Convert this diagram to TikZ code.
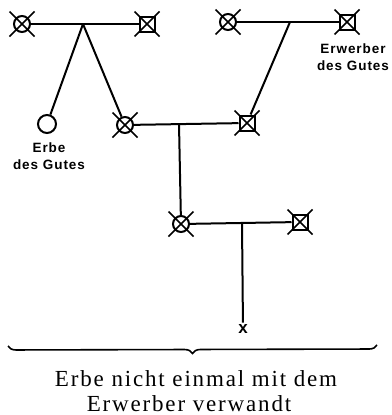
\documentclass[tikz,border=0pt]{standalone}
\usepackage{fontspec}
\setmainfont{Liberation Serif}
\newfontfamily\labfont[LetterSpace=7]{Liberation Sans}
\newfontfamily\capfont[LetterSpace=8]{Liberation Serif}
\usetikzlibrary{decorations.pathreplacing}
\begin{document}
\begin{tikzpicture}[x=1pt,y=-1pt,line width=2pt,
  pcirc/.style={circle,draw,minimum size=16pt,inner sep=0pt},
  psq/.style={rectangle,draw,minimum size=15pt,inner sep=0pt},
  popen/.style={circle,draw,minimum size=18pt,inner sep=0pt},
  xline/.style={line width=1.5pt},
  labtext/.style={font=\labfont\bfseries\fontsize{13.5}{17}\selectfont,align=center,inner sep=0pt},
  captext/.style={font=\capfont\fontsize{23}{27}\selectfont,inner sep=0pt,anchor=base}]
\useasboundingbox (0,0) rectangle (391,415);
% nodes
\node[pcirc] (a) at (22,24) {};
\node[psq]   (b) at (147,24) {};
\node[popen] (c) at (47,124) {};
\node[pcirc] (d) at (125,125) {};
\node[pcirc] (e) at (228,22) {};
\node[psq]   (f) at (347,22) {};
\node[psq]   (g) at (247,123) {};
\node[pcirc] (h) at (181,224) {};
\node[psq]   (i) at (300,222) {};
\node[font=\labfont\bfseries\fontsize{17}{18}\selectfont,inner sep=1pt] (x) at (243,329) {x};
\coordinate (j1) at (83,24);
\coordinate (j2) at (290,22);
\coordinate (j3) at (179,124);
\coordinate (j4) at (242,223);
% crosses
\foreach \n in {a,b,d,e,f,g,h,i}
  \draw[xline] (\n.center) +(-12.5,-12.5) -- +(12.5,12.5) +(-12.5,12.5) -- +(12.5,-12.5);
% connectors
\draw (a) -- (b);
\draw (j1) -- (c);
\draw (j1) -- (d);
\draw (e) -- (f);
\draw (j2) -- (g);
\draw (d) -- (g);
\draw (j3) -- (h);
\draw (h) -- (i);
\draw (j4) -- (x);
% labels
\node[labtext] (l1) at (49,156) {Erbe\\des Gutes};
\node[labtext] (l2) at (353,57) {Erwerber\\des Gutes};
% brace
\draw[line width=1.6pt,decorate,decoration={brace,amplitude=8pt}] (377,345) -- (8,346);
\node[captext] (c1) at (196,386) {Erbe nicht einmal mit dem};
\node[captext] (c2) at (189,411) {Erwerber verwandt};
\end{tikzpicture}
\end{document}
